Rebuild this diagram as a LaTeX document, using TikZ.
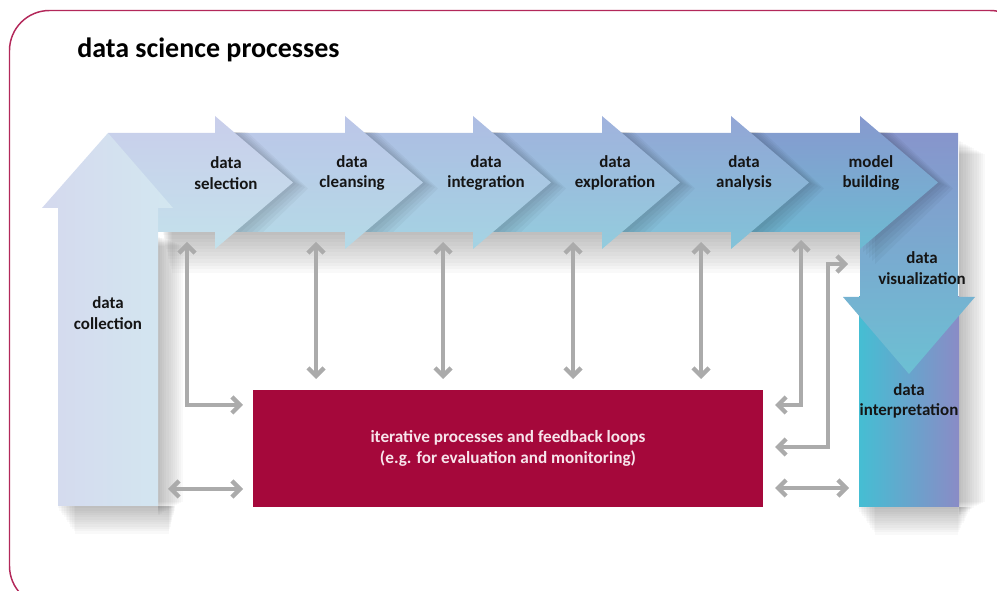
\documentclass[tikz,border=0pt]{standalone}
\usepackage{fontspec}
\setmainfont{Carlito}
\usetikzlibrary{arrows.meta}
\definecolor{framec}{HTML}{B3285A}
\definecolor{boxred}{HTML}{A5083B}
\definecolor{boxtext}{HTML}{F7E4EB}
\definecolor{arrowgray}{HTML}{ABABAB}
\definecolor{txt}{HTML}{151515}
\definecolor{colL}{HTML}{D4D9EE}
\definecolor{colR}{HTML}{D3E7F0}
\definecolor{t1}{HTML}{C9CEEB}\definecolor{b1}{HTML}{C3E1EB}
\definecolor{t2}{HTML}{BCC6E8}\definecolor{b2}{HTML}{B4DAE7}
\definecolor{t3}{HTML}{AEBDE3}\definecolor{b3}{HTML}{A4D3E3}
\definecolor{t4}{HTML}{A0B2DD}\definecolor{b4}{HTML}{93CCDD}
\definecolor{t5}{HTML}{93A6D6}\definecolor{b5}{HTML}{82C3D8}
\definecolor{t6}{HTML}{8799CF}\definecolor{b6}{HTML}{6DBBD2}
\definecolor{visT}{HTML}{8795CC}\definecolor{visB}{HTML}{6CC0D3}
\definecolor{intL}{HTML}{45BED3}\definecolor{intR}{HTML}{8A8BC6}
\tikzset{
  lab/.style={font=\bfseries\fontsize{12.7}{15.5}\selectfont, text=txt, align=center, inner sep=0pt},
  shadowstrip/.style={fill=black, opacity=0.022},
  headshade/.style={fill=black, opacity=0.035},
  garrow/.style={draw=arrowgray, line width=3.2pt,
    {Straight Barb[length=6pt,width=12pt]}-{Straight Barb[length=6pt,width=12pt]}}
}
\newcommand{\chevron}[4]{% left, base, topcolor, bottomcolor
  \shade[top color=#3, bottom color=#4] (#1,133) -- (#2,133) -- (#2,116) -- ({#2+78},182.5) -- (#2,249) -- (#2,232) -- (#1,232) -- cycle;
}
\newcommand{\headshadow}[3]{% base, clip right, clip bottom
  \begin{scope}
    \clip (#1,133) rectangle (#2,#3);
    \foreach \s in {3,6,9,12,15} {
      \fill[headshade] ({#1+\s},116) -- ({#1+78+\s},{182.5+0.4*\s}) -- ({#1+\s},{249+\s}) -- cycle;
    }
  \end{scope}
}
\begin{document}
\begin{tikzpicture}[x=0.75pt,y=-0.75pt]
\useasboundingbox (0,0) rectangle (997,591);
\clip (0,0) rectangle (997,591);

% frame
\draw[framec, line width=1.1pt, rounded corners=30pt] (9.5,10.5) rectangle (1030,606);

% title
\node[anchor=base west, font=\bfseries\fontsize{21}{25}\selectfont, text=black, inner sep=0pt] (title) at (77,58) {data science processes};

% soft shadows built from stacked translucent strips (tapering for soft corners)
\foreach \i in {1,...,12} {
  \fill[shadowstrip] ({162+0.8*\i},232) rectangle (860,{232+3.4*\i});
  \fill[shadowstrip] (158,{236+0.8*\i}) rectangle ({158+2.1*\i},{516-1.2*\i});
  \fill[shadowstrip] ({56+1.6*\i},506) rectangle ({176-0.6*\i},{506+2.3*\i});
  \fill[shadowstrip] (959,{140+1.2*\i}) rectangle ({959+2.2*\i},{516-1.2*\i});
  \fill[shadowstrip] ({856+1.6*\i},507) rectangle ({972-1.2*\i},{507+2.3*\i});
}

% data interpretation column
\shade[left color=intL, right color=intR] (859,297) rectangle (959,507);
% data visualization arrow
\shade[top color=visT, bottom color=visB] (860,133) -- (958,133) -- (958,297) -- (975,297) -- (909,374) -- (843,297) -- (860,297) -- cycle;
\headshadow{860}{958}{297}

% chevrons, right to left, each head casting a soft shadow on the next body
\chevron{731}{860}{t6}{b6}
\headshadow{731}{860}{232}
\chevron{602}{731}{t5}{b5}
\headshadow{602}{731}{232}
\chevron{473}{602}{t4}{b4}
\headshadow{473}{602}{232}
\chevron{345}{473}{t3}{b3}
\headshadow{345}{473}{232}
\chevron{215}{345}{t2}{b2}
\headshadow{215}{345}{232}
\chevron{108}{215}{t1}{b1}

% data collection arrow
\shade[left color=colL, right color=colR] (58,506) -- (58,208) -- (42,208) -- (108,133) -- (173,208) -- (158,208) -- (158,506) -- cycle;

% labels
\node[lab] (collection) at (108,313) {data\\collection};
\node[lab] (selection) at (226,173) {data\\selection};
\node[lab] (cleansing) at (352,173) {data\\cleansing};
\node[lab] (integration) at (486,173) {data\\integration};
\node[lab] (exploration) at (615,173) {data\\exploration};
\node[lab] (analysis) at (744,173) {data\\analysis};
\node[lab] (building) at (871,173) {model\\building};
\node[lab] (visualization) at (922,268) {data\\visualization};
\node[lab] (interpretation) at (909,401) {data\\interpretation};

% red box
\node[fill=boxred, minimum width=382.5pt, minimum height=87.75pt, inner sep=0pt,
      text=boxtext, align=center, font=\bfseries\fontsize{12.9}{15.5}\selectfont]
  (box) at (508,448.5) {iterative processes and feedback loops\\(e.g. for evaluation and monitoring)};

% grey arrow end points
\coordinate (a1) at (187,242);
\coordinate (a2) at (243,405);
\coordinate (b1) at (168,489);
\coordinate (b2) at (243,489);
\coordinate (c1t) at (316,242); \coordinate (c1b) at (316,379);
\coordinate (c2t) at (443,242); \coordinate (c2b) at (443,379);
\coordinate (c3t) at (573,242); \coordinate (c3b) at (573,379);
\coordinate (c4t) at (701,242); \coordinate (c4b) at (701,379);
\coordinate (d1) at (801,240);
\coordinate (d2) at (775,405);
\coordinate (e1) at (848,264);
\coordinate (e2) at (828,447);
\coordinate (e3) at (775,447);
\coordinate (f1) at (775,488);
\coordinate (f2) at (849,488);

\draw[garrow] (a1) |- (a2);
\draw[garrow] (b1) -- (b2);
\draw[garrow] (c1t) -- (c1b);
\draw[garrow] (c2t) -- (c2b);
\draw[garrow] (c3t) -- (c3b);
\draw[garrow] (c4t) -- (c4b);
\draw[garrow] (d1) |- (d2);
\draw[garrow] (e1) -| (e2) -- (e3);
\draw[garrow] (f1) -- (f2);
\end{tikzpicture}
\end{document}
